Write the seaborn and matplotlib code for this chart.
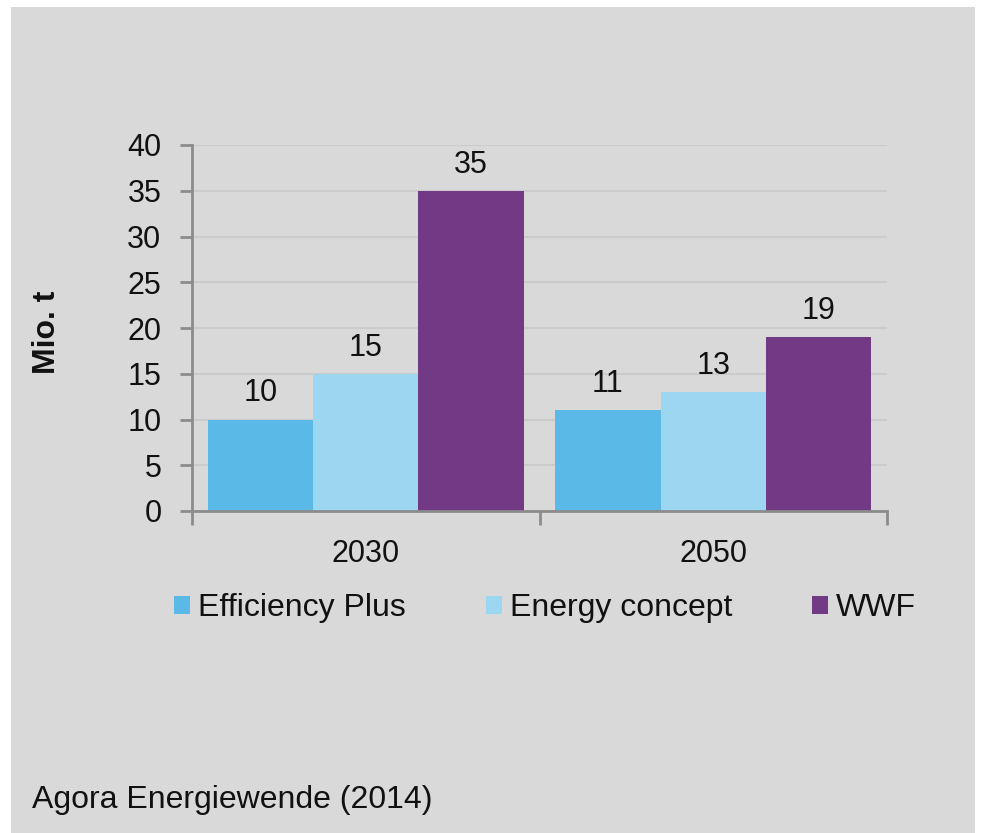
import matplotlib
matplotlib.use("Agg")
import matplotlib.pyplot as plt
import seaborn as sns
import pandas as pd
from matplotlib.patches import Rectangle

years = ["2030", "2050"]
series = ["Efficiency Plus", "Energy concept", "WWF"]
values_efficiency = [10, 11]
values_energy = [15, 13]
values_wwf = [35, 19]
colors = ["#5bb9e7", "#9dd6f0", "#723a84"]
y_ticks = [0, 5, 10, 15, 20, 25, 30, 35, 40]

rows = []
for s, vals in zip(series, [values_efficiency, values_energy, values_wwf]):
    for y, v in zip(years, vals):
        rows.append({"Year": y, "Scenario": s, "Value": v})
df = pd.DataFrame(rows)

sns.set_theme(style="white")
plt.rcParams['font.family'] = ['Liberation Sans', 'DejaVu Sans']

W, H = 985, 833
fig = plt.figure(figsize=(W / 100, H / 100), dpi=100, facecolor="white")
bg = Rectangle((11 / W, 0), (975 - 11) / W, (833 - 7) / H, transform=fig.transFigure,
               facecolor="#d9d9d9", edgecolor="none", zorder=-10)
fig.patches.append(bg)

ax = fig.add_axes([192 / W, 1 - 511 / H, (887 - 192) / W, (511 - 145) / H])
ax.set_facecolor("none")

sns.barplot(data=df, x="Year", y="Value", hue="Scenario", palette=colors,
            width=0.91, gap=0, ax=ax, saturation=1, edgecolor="none", linewidth=0,
            legend=True)

ax.set_ylim(0, 40)
ax.set_xlim(-0.5, 1.5)
ax.set_yticks(y_ticks)
ax.yaxis.grid(True, color="#cbcbcb", linewidth=1.5)
ax.set_axisbelow(True)

for c in ax.containers:
    ax.bar_label(c, labels=[f"{v:g}" for v in c.datavalues], padding=8,
                 fontsize=22, color="#111111")

for side in ["top", "right"]:
    ax.spines[side].set_visible(False)
for side in ["left", "bottom"]:
    ax.spines[side].set_color("#8c8c8c")
    ax.spines[side].set_linewidth(2)

ax.tick_params(axis="y", which="major", length=9, width=2, color="#8c8c8c",
               labelsize=22, labelcolor="#111111", pad=13, left=True)
ax.set_xticks([-0.5, 0.5, 1.5], minor=True)
ax.tick_params(axis="x", which="major", length=0, labelsize=22, labelcolor="#111111", pad=20)
ax.tick_params(axis="x", which="minor", length=10, width=2, color="#8c8c8c", bottom=True)

ax.set_xlabel("")
ax.set_ylabel("Mio. t", fontsize=23, fontweight="bold", color="#111111")
ax.yaxis.set_label_coords((62 - 192) / 695, (511 - 332) / 366)

leg = ax.legend(loc="center", bbox_to_anchor=(545 / W, 1 - 608 / H),
                bbox_transform=fig.transFigure, ncol=3, frameon=False,
                fontsize=23, handlelength=0.5, handleheight=0.5, handletextpad=0.25,
                columnspacing=2.5, borderpad=0)
for t in leg.get_texts():
    t.set_color("#111111")

fig.text(32 / W, 1 - 800 / H, "Agora Energiewende (2014)", fontsize=23,
         color="#111111", va="center", ha="left")

fig.savefig("out.png", dpi=100, facecolor="white")
